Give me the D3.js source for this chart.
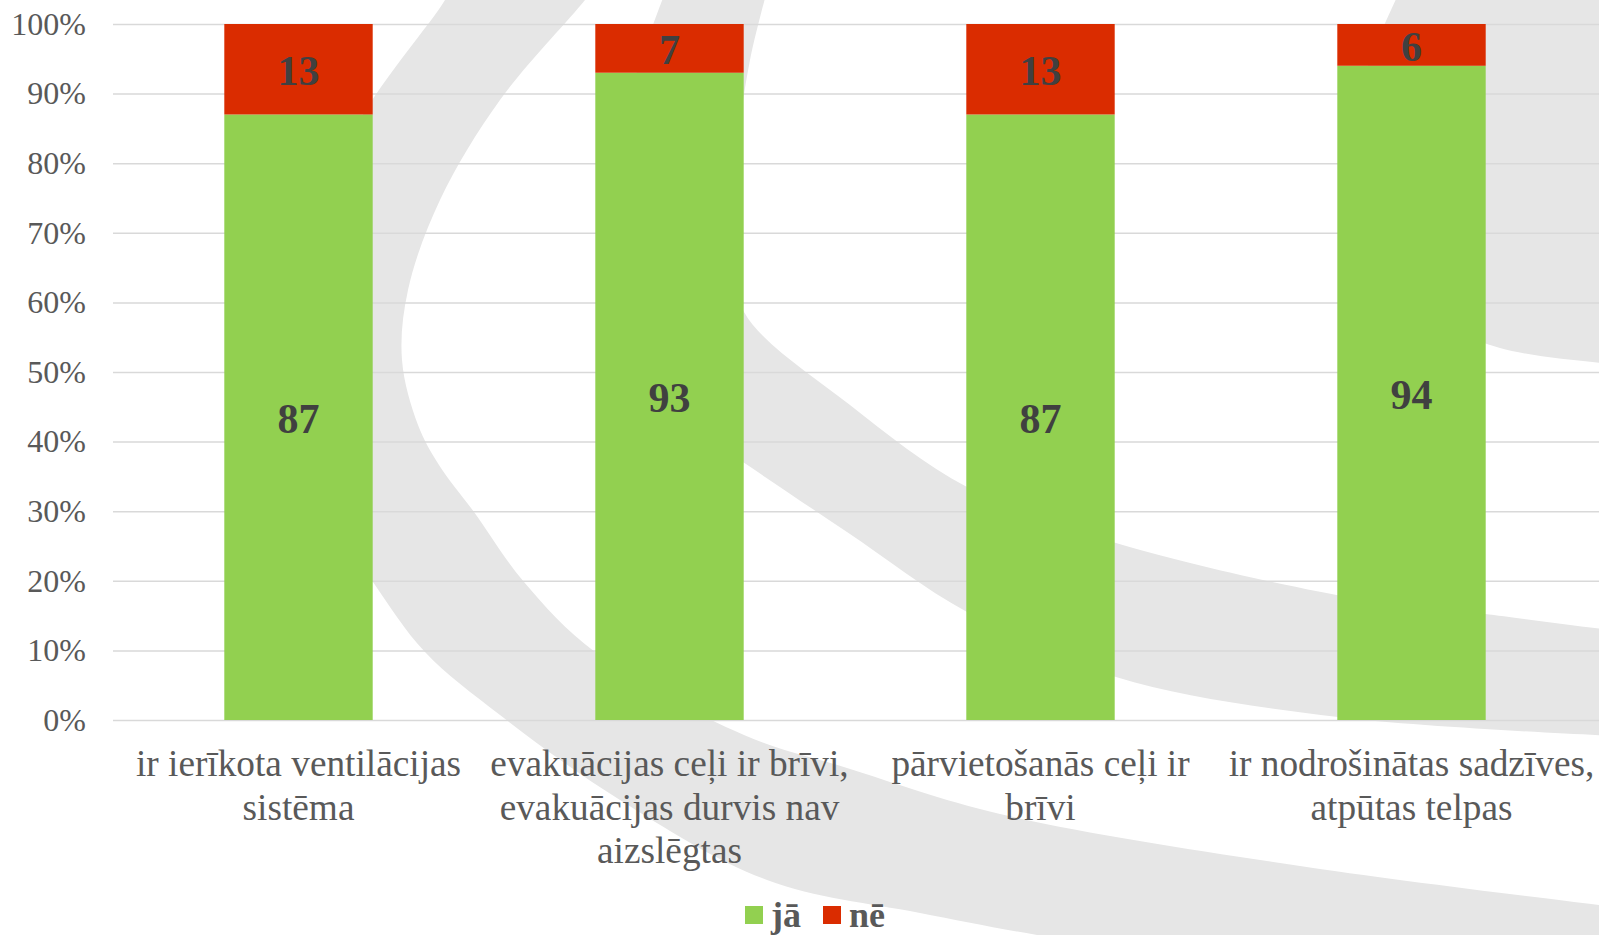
<!DOCTYPE html>
<html>
<head>
<meta charset="utf-8">
<script src="https://cdn.jsdelivr.net/npm/d3@7"></script>
<style>
  html, body { margin: 0; padding: 0; background: #ffffff; }
  svg { display: block; }
</style>
</head>
<body>
<svg id="chart" width="1599" height="935"></svg>
<script>
// ---- data ----
const categories = [
  "ir ierīkota ventilācijas\nsistēma",
  "evakuācijas ceļi ir brīvi,\nevakuācijas durvis nav\naizslēgtas",
  "pārvietošanās ceļi ir\nbrīvi",
  "ir nodrošinātas sadzīves,\natpūtas telpas"
];
const seriesNames = ["jā", "nē"];
const jaValues = [87, 93, 87, 94];
const neValues = [13, 7, 13, 6];
const yTickValues = [0, 10, 20, 30, 40, 50, 60, 70, 80, 90, 100];
const seriesColors = ["#92d050", "#da2c00"];

// ---- layout ----
const W = 1599, H = 935;
const plot = { left: 113, right: 1597, top: 24, bottom: 720 };
const serif = "'Liberation Serif', 'Times New Roman', serif";
const textGray = "#595959";

const svg = d3.select("#chart");

// ---- watermark (decorative background swooshes) ----
const wm = svg.append("g").attr("fill", "#e6e6e6");
const curve = d3.line().curve(d3.curveCatmullRom.alpha(0.5));
function band(edgeA, edgeB) {
  const a = curve(edgeA);
  const b = curve(edgeB.slice().reverse()).replace(/^M/, "L");
  return a + b + "Z";
}
const bandAOuter = [[455,-20],[445,0],[360,120],[300,260],[285,380],[320,500],[373,582],[425,652],[500,715],[620,800],[767,880],[920,913],[1100,945],[1640,1010]];
const bandAInner = [[600,-20],[585,0],[500,100],[440,200],[408,290],[402,360],[418,425],[439,465],[474,512],[524,582],[595,652],[744,735],[847,768],[1000,814],[1300,866],[1640,910]];
wm.append("path").attr("d", band(bandAOuter, bandAInner));
const bandBUpper = [[770,-20],[750,60],[736,160],[734,250],[744,312],[850,405],[967,487],[1116,543],[1364,600],[1485,614],[1640,634]];
const bandBLower = [[670,-20],[632,90],[616,200],[626,320],[668,410],[746,464],[847,532],[967,612],[1116,677],[1338,717],[1640,737]];
wm.append("path").attr("d", band(bandBUpper, bandBLower));
const topRight = [[1405,-20],[1370,60],[1345,150],[1360,240],[1420,310],[1500,348],[1640,366]];
wm.append("path").attr("d", curve(topRight) + "L1640,-20Z");

// ---- scales ----
const x = d3.scaleBand()
  .domain(categories)
  .range([plot.left, plot.right])
  .paddingInner(0.6)
  .paddingOuter(0.3);
const y = d3.scaleLinear().domain([0, 100]).range([plot.bottom, plot.top]);

// ---- gridlines + y axis ----
const yAxis = d3.axisLeft(y)
  .tickValues(yTickValues)
  .tickFormat(d => d + "%")
  .tickSize(-(W - plot.left))
  .tickPadding(27);
const gy = svg.append("g")
  .attr("transform", `translate(${plot.left},0)`)
  .call(yAxis);
gy.select(".domain").remove();
gy.selectAll(".tick line").attr("stroke", "#d9d9d9").attr("stroke-width", 1.5);
gy.selectAll(".tick text")
  .attr("fill", textGray)
  .style("font-family", serif)
  .style("font-size", "32px");

// ---- stacked bars ----
const rows = categories.map((c, i) => ({ cat: c, "jā": jaValues[i], "nē": neValues[i] }));
const stacked = d3.stack().keys(seriesNames)(rows);

const layers = svg.append("g").selectAll("g")
  .data(stacked)
  .join("g")
  .attr("fill", (d, i) => seriesColors[i]);

layers.selectAll("rect")
  .data(d => d)
  .join("rect")
  .attr("x", d => x(d.data.cat))
  .attr("width", x.bandwidth())
  .attr("y", d => y(d[1]))
  .attr("height", d => y(d[0]) - y(d[1]));

// ---- data labels ----
const labels = svg.append("g");
stacked.forEach(layer => {
  labels.selectAll(null)
    .data(layer)
    .join("text")
    .attr("x", d => x(d.data.cat) + x.bandwidth() / 2)
    .attr("y", d => (y(d[0]) + y(d[1])) / 2 + 2)
    .attr("text-anchor", "middle")
    .attr("dominant-baseline", "central")
    .attr("fill", "#404040")
    .style("font-family", serif)
    .style("font-weight", "bold")
    .style("font-size", "42px")
    .text(d => d[1] - d[0]);
});

// ---- category labels ----
const catG = svg.append("g");
categories.forEach(c => {
  const t = catG.append("text")
    .attr("text-anchor", "middle")
    .attr("fill", textGray)
    .style("font-family", serif)
    .style("font-size", "37.3px");
  c.split("\n").forEach((line, li) => {
    t.append("tspan")
      .attr("x", x(c) + x.bandwidth() / 2)
      .attr("y", 776 + li * 43.5)
      .text(line);
  });
});

// ---- legend ----
const legend = svg.append("g").attr("transform", "translate(745,0)");
let lx = 0;
seriesNames.forEach((name, i) => {
  legend.append("rect")
    .attr("x", lx).attr("y", 906)
    .attr("width", 18).attr("height", 18)
    .attr("fill", seriesColors[i]);
  const t = legend.append("text")
    .attr("x", lx + 26).attr("y", 927)
    .attr("fill", textGray)
    .style("font-family", serif)
    .style("font-weight", "bold")
    .style("font-size", "36px")
    .text(name);
  lx += 26 + t.node().getComputedTextLength() + 22;
});
</script>
</body>
</html>
